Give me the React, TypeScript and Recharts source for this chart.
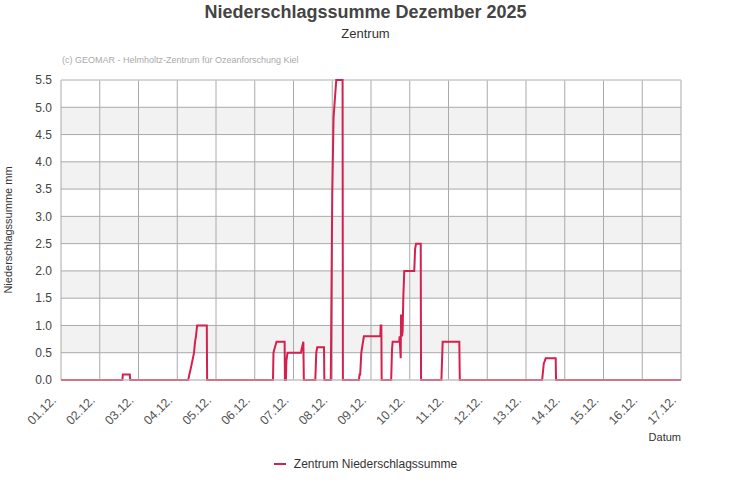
import React from "react";
import {
  LineChart,
  Line,
  XAxis,
  YAxis,
  CartesianGrid,
  ReferenceLine,
} from "recharts";

// hours since 01.12. 00:00
const hours = [
  0, 38, 38.3, 42.6, 42.9, 78.8, 79.5, 80.3, 81, 81.7, 82.4, 83, 83.6, 84.3, 90.3, 90.5,
  131.3, 131.6, 132.5, 133.5, 138.5, 138.7, 139.3, 139.6, 140.3, 148.6, 149.3, 150.1, 150.4,
  157.5, 158.1, 158.7, 162.9, 163.1, 167.1, 167.5, 168, 168.8, 169.5, 170.5, 174.4, 174.6,
  184.5, 184.9, 185.3, 186, 187.6, 197.8, 198.0, 198.4, 198.6,
  204.5, 205.0, 205.4, 209.5, 209.7, 210.4, 210.6, 211.2, 211.6, 212.0, 212.6, 218.8, 219.3,
  219.9, 222.8, 223.0,
  235.6, 236.4, 246.7, 247.0,
  298.0, 299.0, 300.2, 306.4, 306.6, 384,
];
const values = [
  0, 0, 0.1, 0.1, 0, 0, 0.1, 0.2, 0.3, 0.4, 0.5, 0.7, 0.8, 1.0, 1.0, 0,
  0, 0.5, 0.6, 0.7, 0.7, 0, 0, 0.35, 0.5, 0.5, 0.6, 0.7, 0,
  0, 0.5, 0.6, 0.6, 0, 0, 1.5, 3.4, 4.8, 5.1, 5.5, 5.5, 0,
  0, 0.1, 0.1, 0.5, 0.8, 0.8, 1.0, 1.0, 0,
  0, 0.55, 0.7, 0.7, 0.8, 0.4, 1.2, 0.8, 0.9, 1.5, 2.0, 2.0, 2.4,
  2.5, 2.5, 0,
  0, 0.7, 0.7, 0,
  0, 0.3, 0.4, 0.4, 0, 0,
];
const dayTicks = [0, 24, 48, 72, 96, 120, 144, 168, 192, 216, 240, 264, 288, 312, 336, 360, 384];
const dayLabels = [
  "01.12.", "02.12.", "03.12.", "04.12.", "05.12.", "06.12.", "07.12.", "08.12.", "09.12.",
  "10.12.", "11.12.", "12.12.", "13.12.", "14.12.", "15.12.", "16.12.", "17.12.",
];
const yTicks = [0, 0.5, 1, 1.5, 2, 2.5, 3, 3.5, 4, 4.5, 5, 5.5];

const data = hours.map((h, i) => ({ h, v: values[i] }));

const RED = "#d3214f";
const FONT = "'Liberation Sans', Arial, sans-serif";

const XTick = (props: any) => {
  const { x, y, payload } = props;
  const idx = dayTicks.indexOf(payload.value);
  const label = idx >= 0 ? dayLabels[idx] : "";
  const ax = x - 4;
  const ay = y + 13;
  return (
    <text
      x={ax}
      y={ay}
      transform={`rotate(-45, ${ax}, ${ay})`}
      textAnchor="end"
      fontSize={12.5}
      fill="#555"
      fontFamily={FONT}
    >
      {label}
    </text>
  );
};

export default function App() {
  return (
    <div
      style={{
        position: "absolute",
        left: 0,
        top: 0,
        width: 731,
        height: 500,
        background: "#fff",
        fontFamily: FONT,
      }}
    >
      <div
        style={{
          position: "absolute",
          left: 0,
          width: 731,
          top: 2,
          textAlign: "center",
          fontSize: 18,
          fontWeight: "bold",
          color: "#444",
        }}
      >
        Niederschlagssumme Dezember 2025
      </div>
      <div
        style={{
          position: "absolute",
          left: 0,
          width: 731,
          top: 26,
          textAlign: "center",
          fontSize: 13,
          color: "#333",
        }}
      >
        Zentrum
      </div>
      <div
        style={{
          position: "absolute",
          left: 62,
          top: 55,
          fontSize: 9,
          color: "#aaa",
        }}
      >
        (c) GEOMAR - Helmholtz-Zentrum für Ozeanforschung Kiel
      </div>
      <div
        style={{
          position: "absolute",
          left: 8 - 100,
          top: 230 - 8,
          width: 200,
          height: 16,
          lineHeight: "16px",
          textAlign: "center",
          fontSize: 11,
          color: "#333",
          transform: "rotate(-90deg)",
        }}
      >
        Niederschlagssumme mm
      </div>
      <div
        style={{
          position: "absolute",
          right: 50,
          top: 431,
          fontSize: 11,
          color: "#333",
        }}
      >
        Datum
      </div>
      <div
        style={{
          position: "absolute",
          left: 0,
          width: 731,
          top: 457,
          display: "flex",
          justifyContent: "center",
          alignItems: "center",
          fontSize: 12,
          color: "#333",
        }}
      >
        <div style={{ width: 12, height: 2, background: RED, marginRight: 8 }} />
        <span>Zentrum Niederschlagssumme</span>
      </div>
      <div style={{ position: "absolute", left: 0, top: 0 }}>
        <LineChart
          width={731}
          height={500}
          data={data}
          margin={{ top: 80, right: 50, left: 0, bottom: 0 }}
        >
          <CartesianGrid
            stroke="#aaa"
            horizontalFill={["#ffffff", "#f2f2f2"]}
            fillOpacity={1}
          />
          <XAxis
            dataKey="h"
            type="number"
            domain={[0, 384]}
            ticks={dayTicks}
            interval={0}
            height={120}
            tickLine={false}
            axisLine={{ stroke: "#ccc" }}
            tick={<XTick />}
          />
          <YAxis
            type="number"
            domain={[0, 5.5]}
            ticks={yTicks}
            interval={0}
            width={61}
            axisLine={false}
            tickLine={false}
            tickSize={0}
            tickMargin={9}
            tickFormatter={(v: number) => v.toFixed(1)}
            tick={{ fontSize: 12, fill: "#444", fontFamily: FONT }}
          />
          <ReferenceLine y={5.5} stroke="#d8d8d8" />
          <Line
            type="linear"
            dataKey="v"
            stroke={RED}
            strokeWidth={2}
            dot={false}
            activeDot={false}
            isAnimationActive={false}
          />
        </LineChart>
      </div>
    </div>
  );
}
